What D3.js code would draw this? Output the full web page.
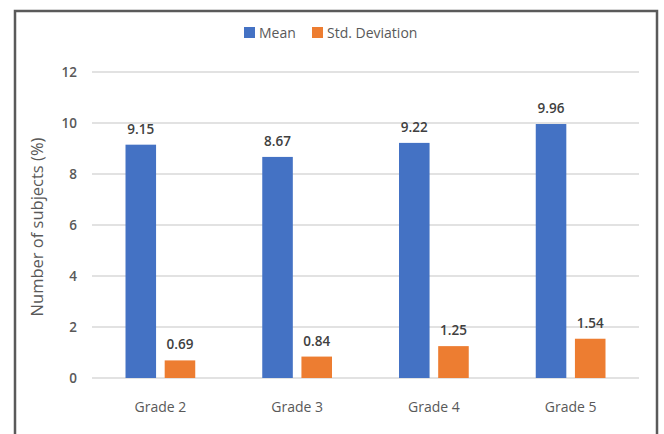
<!DOCTYPE html>
<html>
<head>
<meta charset="utf-8">
<script src="https://cdn.jsdelivr.net/npm/d3@7"></script>
<style>
  html, body { margin: 0; padding: 0; background: #fff; }
  svg { display: block; font-family: "Open Sans", "Noto Sans", sans-serif; }
</style>
</head>
<body>
<svg id="chart" width="664" height="434"></svg>
<script>
// Chart data
const categories = ["Grade 2", "Grade 3", "Grade 4", "Grade 5"];
const seriesNames = ["Mean", "Std. Deviation"];
const meanValues = [9.15, 8.67, 9.22, 9.96];
const stdValues = [0.69, 0.84, 1.25, 1.54];
const yTicks = [0, 2, 4, 6, 8, 10, 12];
const yTitle = "Number of subjects (%)";

const colors = ["#4472C4", "#ED7D31"];
const textColor = "#595959";

const svg = d3.select("#chart");

// Outer frame
svg.append("rect")
  .attr("x", 15).attr("y", 11)
  .attr("width", 642).attr("height", 450)
  .attr("fill", "none")
  .attr("stroke", "#5a5a5a")
  .attr("stroke-width", 2.5);

const plot = { left: 92, right: 639, top: 72, bottom: 378 };

const y = d3.scaleLinear().domain([0, 12]).range([plot.bottom, plot.top]);
const x0 = d3.scaleBand().domain(categories).range([plot.left, plot.right])
  .paddingInner(0.49).paddingOuter(0.245);
const x1 = d3.scaleBand().domain(seriesNames).range([0, x0.bandwidth()])
  .paddingInner(0.22);

// Gridlines
svg.append("g")
  .selectAll("line")
  .data(yTicks)
  .join("line")
  .attr("x1", plot.left).attr("x2", plot.right)
  .attr("y1", d => y(d)).attr("y2", d => y(d))
  .attr("stroke", "#d9d9d9")
  .attr("stroke-width", 1.5);

// Y axis labels
const yAxis = d3.axisLeft(y).tickValues(yTicks).tickSize(0).tickPadding(0);
const gy = svg.append("g")
  .attr("transform", `translate(${plot.left - 15},0)`)
  .call(yAxis);
gy.select(".domain").remove();
gy.selectAll("text")
  .attr("fill", textColor)
  .attr("font-size", 13.5)
  .attr("font-weight", 600)
  .attr("font-family", "'Open Sans', sans-serif");

// X axis labels
const xAxis = d3.axisBottom(x0).tickSize(0).tickPadding(0);
const gx = svg.append("g")
  .attr("transform", `translate(0,${plot.bottom + 24})`)
  .call(xAxis);
gx.select(".domain").remove();
gx.selectAll("text")
  .attr("fill", textColor)
  .attr("font-size", 14)
  .attr("font-family", "'Open Sans', sans-serif");

// Y axis title
svg.append("text")
  .attr("transform", `translate(43,${(plot.top + plot.bottom) / 2 + 2}) rotate(-90)`)
  .attr("text-anchor", "middle")
  .attr("fill", textColor)
  .attr("font-size", 16.5)
  .text(yTitle);

// Bars
const rows = categories.map((c, i) => ({
  category: c,
  values: [
    { series: seriesNames[0], value: meanValues[i] },
    { series: seriesNames[1], value: stdValues[i] }
  ]
}));

const groups = svg.append("g")
  .selectAll("g")
  .data(rows)
  .join("g")
  .attr("transform", d => `translate(${x0(d.category)},0)`);

groups.selectAll("rect")
  .data(d => d.values)
  .join("rect")
  .attr("x", d => x1(d.series))
  .attr("width", x1.bandwidth())
  .attr("y", d => y(d.value))
  .attr("height", d => y(0) - y(d.value))
  .attr("fill", (d, i) => colors[i]);

groups.selectAll("text")
  .data(d => d.values)
  .join("text")
  .attr("x", d => x1(d.series) + x1.bandwidth() / 2)
  .attr("y", d => y(d.value) - 11)
  .attr("text-anchor", "middle")
  .attr("fill", "#404040")
  .attr("font-size", 13.5)
  .attr("font-weight", 600)
  .text(d => d.value.toFixed(2));

// Legend
const legendItems = [
  { name: seriesNames[0], x: 244 },
  { name: seriesNames[1], x: 312 }
];
const legend = svg.append("g")
  .selectAll("g")
  .data(legendItems)
  .join("g")
  .attr("transform", d => `translate(${d.x},27)`);
legend.append("rect")
  .attr("width", 11).attr("height", 11)
  .attr("fill", (d, i) => colors[i]);
legend.append("text")
  .attr("x", 15).attr("y", 10.5)
  .attr("fill", textColor)
  .attr("font-size", 14)
  .text(d => d.name);
</script>
</body>
</html>
